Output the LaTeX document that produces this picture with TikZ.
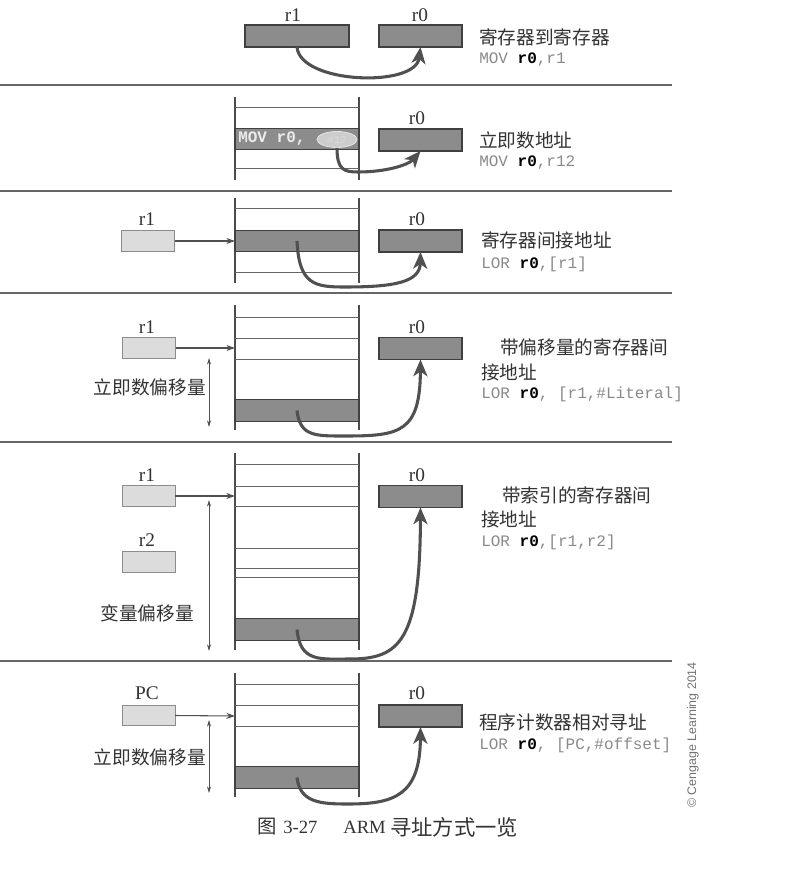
\documentclass[tikz,border=0pt]{standalone}
\usepackage{fontspec}
\setmainfont{Liberation Serif}
\setmonofont{Liberation Mono}
\newfontfamily\cjk{Noto Sans CJK SC}
\newfontfamily\credit{Liberation Sans}
\usetikzlibrary{arrows.meta,shapes.geometric}

\definecolor{ink}{HTML}{333333}
\definecolor{rulegray}{HTML}{666666}
\definecolor{regdark}{HTML}{8C8C8C}
\definecolor{reglight}{HTML}{DCDCDC}
\definecolor{codegray}{HTML}{8A8A8A}
\definecolor{flow}{HTML}{505050}

% bold destination register inside an instruction
\newcommand\regb[1]{{\color{black}\bfseries #1}}

\tikzset{
  darkreg/.style={draw=black!75, line width=0.8pt, fill=regdark, inner sep=0pt, outer sep=0pt, minimum height=16.5pt},
  lightreg/.style={draw=black!45, line width=0.6pt, fill=reglight, inner sep=0pt, outer sep=0pt, minimum width=39.75pt, minimum height=15.5pt},
  dest/.style={darkreg, minimum width=62.25pt},
  memrow/.style={darkreg, minimum width=93pt, minimum height=16pt},
  reglabel/.style={font=\fontsize{14.5}{14.5}\selectfont, text=ink, inner sep=0pt},
  title/.style={font=\cjk\fontsize{14}{14}\selectfont, text=ink, anchor=west, inner sep=0pt},
  sidelabel/.style={font=\cjk\fontsize{14}{14}\selectfont, text=ink, inner sep=0pt},
  code/.style={font=\ttfamily\fontsize{12}{12}\selectfont, text=codegray, anchor=west, inner sep=0pt},
  flowarrow/.style={draw=flow, line width=2.3pt, -{Stealth[length=12.5pt,width=10.5pt,inset=3.5pt]}},
  ptrarrow/.style={draw=flow, line width=0.8pt, -{Stealth[length=6.5pt,width=4.5pt]}},
  spanarrow/.style={draw=flow, line width=0.6pt, {Stealth[length=5pt,width=3pt]}-{Stealth[length=5pt,width=3pt]}},
  separator/.style={draw=rulegray, line width=1.5pt},
  memwall/.style={draw=black!70, line width=0.8pt},
  memline/.style={draw=black!60, line width=0.7pt},
}

\begin{document}
\begin{tikzpicture}[x=0.75pt,y=-0.75pt]
\useasboundingbox (0,0) rectangle (795,880);
\fill[white] (0,0) rectangle (795,880);

% ---------- register to register ----------
\node[darkreg, minimum width=78pt] (s1src) at (297,36) {};
\node[reglabel] (s1srcl) at (293,15) {r1};
\node[dest] (s1dst) at (420.5,36) {};
\node[reglabel] (s1dstl) at (420,15) {r0};
\node[title] (s1t) at (479,37) {寄存器到寄存器};
\node[code] (s1c) at (479,60) {MOV \regb{r0},r1};
\draw[flowarrow] (s1src.south) .. controls +(3,37) and +(-5,41) .. (s1dst.south);
\draw[separator] (0,85) -- (672,85);

% ---------- immediate ----------
\draw[memwall] (235,97) -- (235,180) (359,97) -- (359,180);
\draw[memline] (235,107) -- (359,107) (235,168) -- (359,168);
\node[memrow] (s2row) at (297,139) {};
\node[anchor=west, font=\ttfamily\bfseries\fontsize{12}{12}\selectfont, text=white!92!black, inner sep=0pt] (s2op) at (238,139) {MOV r0,};
\node[ellipse, draw=white!90!black, fill=black!20, line width=0.6pt, inner sep=0pt, minimum width=30pt, minimum height=12pt,
      font=\ttfamily\fontsize{8}{8}\selectfont, text=white!85!black] (s2imm) at (337,139.5) {\#12};
\node[dest] (s2dst) at (420.5,140) {};
\node[reglabel] (s2dstl) at (417,118) {r0};
\node[title] (s2t) at (479,140) {立即数地址};
\node[code] (s2c) at (479,163) {MOV \regb{r0},r12};
\coordinate (s2dip) at (358,172);
\draw[flowarrow] (s2imm.south) .. controls +(0,22) and +(-14,0) .. (s2dip)
                 .. controls +(28,0) and +(-12,14) .. (s2dst.south);
\draw[separator] (0,191) -- (672,191);

% ---------- register indirect ----------
\draw[memwall] (235,198) -- (235,283) (359,198) -- (359,283);
\draw[memline] (235,208) -- (359,208) (235,272) -- (359,272);
\node[memrow] (s3row) at (297,241) {};
\node[lightreg] (s3reg) at (148,241) {};
\node[reglabel] (s3regl) at (147,219) {r1};
\draw[ptrarrow] (s3reg.east) -- (s3row.west);
\node[dest] (s3dst) at (420.5,241) {};
\node[reglabel] (s3dstl) at (417,219) {r0};
\node[title] (s3t) at (481,240) {寄存器间接地址};
\node[code] (s3c) at (481,264) {LOR \regb{r0},[r1]};
\coordinate (s3low) at (345,287);
\draw[flowarrow] (s3row.center) .. controls +(2,44) and +(-30,0) .. (s3low)
                 .. controls +(50,0) and +(-0.5,30) .. (s3dst.south);
\draw[separator] (0,293) -- (672,293);

% ---------- register indirect with offset ----------
\draw[memwall] (235,305) -- (235,430) (359,305) -- (359,430);
\draw[memline] (235,317) -- (359,317) (235,338) -- (359,338) (235,359) -- (359,359);
\node[memrow] (s4row) at (297,410.5) {};
\node[lightreg] (s4reg) at (149,348) {};
\node[reglabel] (s4regl) at (147,327) {r1};
\coordinate (s4in) at (235,348);
\draw[ptrarrow] (s4reg.east) -- (s4in);
\coordinate (s4top) at (209,358);
\coordinate (s4bot) at (209,427);
\draw[spanarrow] (s4top) -- (s4bot);
\node[sidelabel, anchor=east] (s4off) at (206,387) {立即数偏移量};
\node[dest] (s4dst) at (420.5,348.5) {};
\node[reglabel] (s4dstl) at (417,327) {r0};
\node[title] (s4t) at (500,347) {带偏移量的寄存器间};
\node[title] (s4t2) at (481,372) {接地址};
\node[code] (s4c) at (481,394) {LOR \regb{r0}, [r1,\#Literal]};
\coordinate (s4low) at (345,436);
\draw[flowarrow] (s4row.center) .. controls +(3,26) and +(-30,0) .. (s4low)
                 .. controls +(55,0) and +(-0.5,73) .. (s4dst.south);
\draw[separator] (0,442) -- (672,442);

% ---------- register indirect with index ----------
\draw[memwall] (235,453) -- (235,650) (359,453) -- (359,650);
\draw[memline] (235,464) -- (359,464) (235,486) -- (359,486) (235,506) -- (359,506)
               (235,548) -- (359,548) (235,568) -- (359,568) (235,577) -- (359,577);
\node[memrow] (s5row) at (297,629.5) {};
\node[lightreg] (s5reg) at (148.5,496) {};
\node[reglabel] (s5regl) at (147,475) {r1};
\coordinate (s5in) at (235,496);
\draw[ptrarrow] (s5reg.east) -- (s5in);
\node[lightreg] (s5idx) at (148.5,562) {};
\node[reglabel] (s5idxl) at (147,540) {r2};
\coordinate (s5top) at (209,500);
\coordinate (s5bot) at (209,651);
\draw[spanarrow] (s5top) -- (s5bot);
\node[sidelabel] (s5off) at (147,613) {变量偏移量};
\node[dest] (s5dst) at (420.5,496.5) {};
\node[reglabel] (s5dstl) at (417,475) {r0};
\node[title] (s5t) at (502,495) {带索引的寄存器间};
\node[title] (s5t2) at (481,519) {接地址};
\node[code] (s5c) at (481,542) {LOR \regb{r0},[r1,r2]};
\coordinate (s5low) at (350,659);
\draw[flowarrow] (s5row.center) .. controls +(3,33) and +(-30,0) .. (s5low)
                 .. controls +(50,0) and +(-0.5,133) .. (s5dst.south);
\draw[separator] (0,661) -- (672,661);

% ---------- PC relative ----------
\draw[memwall] (235,673) -- (235,797) (359,673) -- (359,797);
\draw[memline] (235,684) -- (359,684) (235,705) -- (359,705) (235,726) -- (359,726);
\node[memrow] (s6row) at (297,777.5) {};
\node[lightreg] (s6reg) at (148.5,715.5) {};
\node[reglabel] (s6regl) at (147,693) {PC};
\coordinate (s6in) at (235,716);
\draw[ptrarrow] (s6reg.east) -- (s6in);
\coordinate (s6top) at (209,720);
\coordinate (s6bot) at (209,793);
\draw[spanarrow] (s6top) -- (s6bot);
\node[sidelabel, anchor=east] (s6off) at (206,757) {立即数偏移量};
\node[dest] (s6dst) at (420.5,716) {};
\node[reglabel] (s6dstl) at (417,693) {r0};
\node[title] (s6t) at (479,722) {程序计数器相对寻址};
\node[code] (s6c) at (479,745) {LOR \regb{r0}, [PC,\#offset]};
\coordinate (s6low) at (348,804);
\draw[flowarrow] (s6row.center) .. controls +(3,25) and +(-28,0) .. (s6low)
                 .. controls +(47,0) and +(-0.5,68) .. (s6dst.south);

% ---------- credit and caption ----------
\node[rotate=90, font=\credit\fontsize{9.3}{9.3}\selectfont, text=black!55, inner sep=0pt] (credit) at (693,735) {© Cengage Learning 2014};
\node[anchor=west, font=\cjk\fontsize{14.5}{14.5}\selectfont, text=ink, inner sep=0pt] (capfig) at (257,827) {图};
\node[anchor=west, font=\fontsize{14}{14}\selectfont, text=ink, inner sep=0pt] (capnum) at (283,827) {3-27};
\node[anchor=west, font=\fontsize{14}{14}\selectfont, text=ink, inner sep=0pt] (caparm) at (343,827) {ARM};
\node[anchor=west, font=\cjk\fontsize{16}{16}\selectfont, text=ink, inner sep=0pt] (captext) at (390,827) {寻址方式一览};
\end{tikzpicture}
\end{document}
